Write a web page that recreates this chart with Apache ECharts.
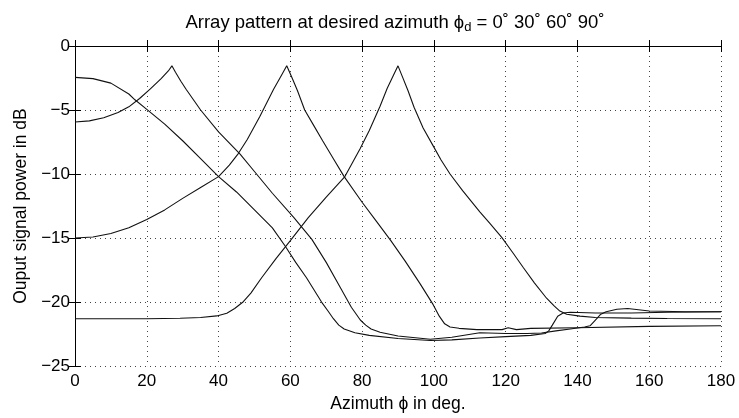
<!DOCTYPE html>
<html>
<head>
<meta charset="utf-8">
<script src="https://cdn.jsdelivr.net/npm/echarts@6/dist/echarts.min.js"></script>
<style>html,body{margin:0;padding:0;background:#fff}#c{width:739px;height:418px}</style>
</head>
<body>
<div id="c"></div>
<script>
// Tick values
const xTicks = [0, 20, 40, 60, 80, 100, 120, 140, 160, 180];
const yTicks = [-25, -20, -15, -10, -5, 0];

// Curve phi_d = 0 deg
const azA = [0,5,10,15,16.7,20,25,30,35,40,45,50,55,58.5,61.5,64.5,68.7,70.5,72,73.5,75,78,82,90,99,105,112.8,120,127,131,132,133,134.5,136,138,145,155,165,180];
const pA  = [-2.45,-2.55,-2.9,-3.75,-4.2,-4.95,-6.1,-7.4,-8.8,-10.2,-11.4,-12.8,-14.2,-15.6,-16.9,-18.1,-20.0,-20.7,-21.3,-21.8,-22.1,-22.4,-22.6,-22.85,-23.0,-22.95,-22.8,-22.7,-22.6,-22.45,-22.25,-21.8,-21.1,-20.85,-20.8,-20.85,-20.85,-20.8,-20.75];

// Curve phi_d = 30 deg
const azB = [0,4,8,12,15,18,21,24,26,27,28,29.5,31,33,35,40,46,50,55,61,66,70,74,77,79.5,81,82.5,85,90,99,105,112.8,120,126,130,134,138,142,143.5,145,146.5,148,151,154,157,160,170,180];
const pB  = [-5.93,-5.85,-5.6,-5.2,-4.75,-4.1,-3.35,-2.55,-1.95,-1.55,-2.05,-2.75,-3.4,-4.2,-5.0,-6.7,-8.45,-9.8,-11.5,-13.4,-15.1,-16.9,-18.9,-20.4,-21.4,-21.8,-22.1,-22.35,-22.65,-22.9,-22.75,-22.4,-22.45,-22.45,-22.42,-22.25,-22.1,-21.95,-21.85,-21.4,-20.95,-20.75,-20.56,-20.5,-20.6,-20.7,-20.75,-20.75];

// Curve phi_d = 60 deg
const azC = [0,5,10,15,20,25,30,35,40,43,45.5,48,51.5,55.3,57.5,59,60.5,62,64,66.5,69,72,75,80,84,88,92,96,99.8,101.5,103,104.5,107,112,119,120.7,123,127,140,160,180];
const pC  = [-15.0,-14.92,-14.65,-14.2,-13.55,-12.8,-11.9,-11.05,-10.2,-9.3,-8.4,-7.3,-5.5,-3.4,-2.3,-1.55,-2.5,-3.5,-5.0,-6.2,-7.4,-8.8,-10.2,-12.2,-13.7,-15.2,-16.8,-18.5,-20.2,-21.1,-21.7,-21.95,-22.05,-22.15,-22.15,-22.0,-22.15,-22.05,-22.0,-21.9,-21.85];

// Curve phi_d = 90 deg
const azD = [0,10,20,29.3,35,39.5,42.3,44.5,46.9,49,52,56,60,65,70,75.2,79.4,82,85,87,88.2,90,91.3,92.8,94.5,97,99.8,102,104.5,108,112.8,115.6,118.9,122,124.9,128,131.4,133.5,135.1,137,140.7,145,155,165,180];
const pD  = [-21.3,-21.3,-21.3,-21.26,-21.2,-21.08,-20.87,-20.5,-19.97,-19.3,-18.1,-16.6,-15.2,-13.4,-11.8,-10.2,-8.05,-6.6,-4.7,-3.3,-2.6,-1.55,-2.45,-3.5,-4.8,-6.4,-7.8,-8.9,-10.0,-11.3,-12.95,-13.85,-14.95,-16.15,-17.3,-18.5,-19.7,-20.3,-20.7,-20.95,-21.1,-21.2,-21.25,-21.28,-21.3];

const FONT = 'Liberation Sans, Arial, Helvetica, sans-serif';
const zip = (xs, ys) => xs.map((x, i) => [x, ys[i]]);
const fmtY = v => (v < 0 ? '\u2212' + Math.abs(v) : String(v));

const chart = echarts.init(document.getElementById('c'), null, {renderer: 'canvas'});
const baseAxisLine = {show: true, lineStyle: {color: '#000', width: 1}};
const tick = {show: true, inside: true, length: 6, lineStyle: {color: '#000', width: 1}};
const grid = {show: true, lineStyle: {color: '#444', width: 1, type: [1, 4]}};

const line = (d) => ({
  type: 'line', data: d, showSymbol: false, symbol: 'none', smooth: false,
  lineStyle: {color: '#111', width: 1.1}, animation: false, silent: true
});

chart.setOption({
  animation: false,
  backgroundColor: '#fff',
  title: {
    left: 390, top: 7, textAlign: 'center',
    text: '{a|Array pattern at desired azimuth \u03d5}{s|d}{a| = 0\u02da 30\u02da 60\u02da 90\u02da}',
    textStyle: {
      fontWeight: 'normal',
      rich: {
        a: {fontFamily: FONT, fontSize: 18.5, fontWeight: 'normal', color: '#000'},
        s: {fontFamily: FONT, fontSize: 13, fontWeight: 'normal', color: '#000', padding: [9, 0, 0, 0]}
      }
    }
  },
  grid: {left: 75, right: 18, top: 46, bottom: 49, containLabel: false},
  xAxis: [
    {
      type: 'value', min: 0, max: 180, interval: 20, position: 'bottom',
      name: 'Azimuth \u03d5 in deg.', nameLocation: 'middle', nameGap: 27,
      nameTextStyle: {fontFamily: FONT, fontSize: 17.5, color: '#000'},
      axisLine: baseAxisLine, axisTick: tick, splitLine: grid,
      axisLabel: {fontFamily: FONT, fontSize: 17, color: '#000', margin: 7,
        formatter: v => String(v)}
    },
    {
      type: 'value', min: 0, max: 180, interval: 20, position: 'top',
      axisLine: baseAxisLine, axisTick: tick, splitLine: {show: false},
      axisLabel: {show: false}
    }
  ],
  yAxis: [
    {
      type: 'value', min: -25, max: 0, interval: 5, position: 'left',
      name: 'Ouput signal power in dB', nameLocation: 'middle', nameGap: 44,
      nameRotate: 90,
      nameTextStyle: {fontFamily: FONT, fontSize: 17.5, color: '#000'},
      axisLine: baseAxisLine, axisTick: tick, splitLine: grid,
      axisLabel: {fontFamily: FONT, fontSize: 17, color: '#000', margin: 5, formatter: fmtY}
    },
    {
      type: 'value', min: -25, max: 0, interval: 5, position: 'right',
      axisLine: baseAxisLine, axisTick: tick, splitLine: {show: false},
      axisLabel: {show: false}
    }
  ],
  series: [
    line(zip(azA, pA)),
    line(zip(azB, pB)),
    line(zip(azC, pC)),
    line(zip(azD, pD))
  ]
});
</script>
</body>
</html>
